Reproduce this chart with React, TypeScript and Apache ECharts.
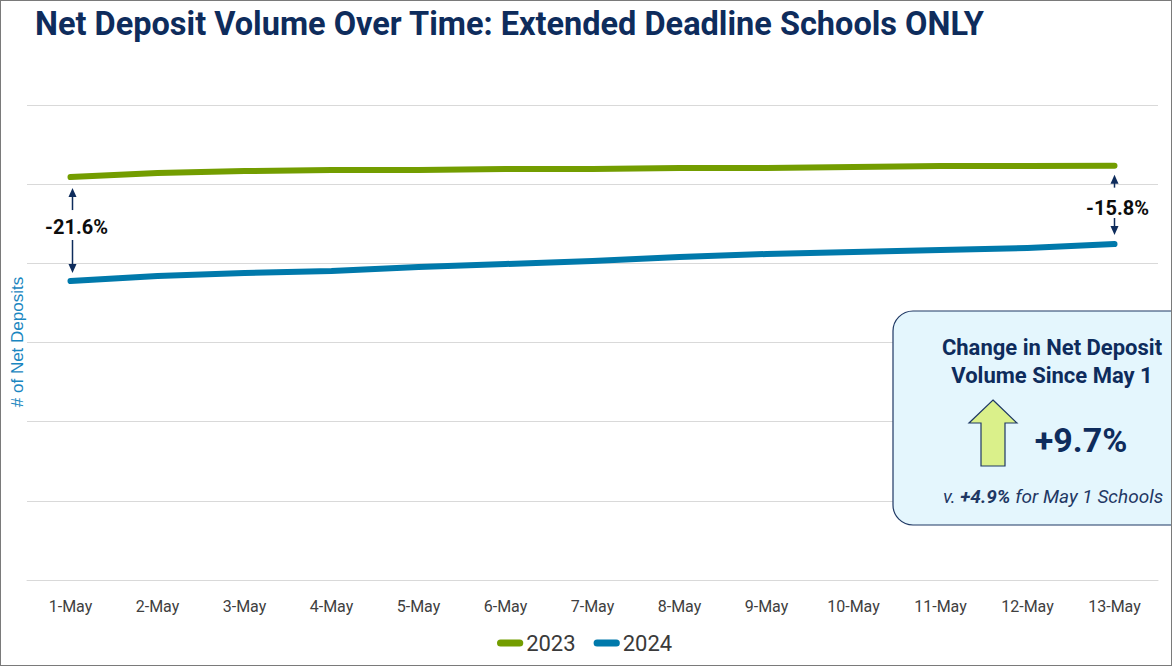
import React, { useEffect, useRef } from "react";
import * as echarts from "echarts";

const categories = ["1-May", "2-May", "3-May", "4-May", "5-May", "6-May", "7-May", "8-May", "9-May", "10-May", "11-May", "12-May", "13-May"];
const values2023 = [50900, 51400, 51650, 51790, 51800, 51910, 51920, 52040, 52050, 52170, 52290, 52300, 52340];
const values2024 = [37770, 38400, 38780, 39030, 39540, 39920, 40300, 40800, 41180, 41430, 41680, 41940, 42440];
const seriesNames = ["2023", "2024"];
const yMin = 0;
const yMax = 60000;
const yInterval = 10000;
const gapLabels = ["-21.6%", "-15.8%"];
const boxTitle = ["Change in Net Deposit", "Volume Since May 1"];
const boxValue = "+9.7%";
const boxCompare = ["v. ", "+4.9%", " for May 1 Schools"];
const titleText = "Net Deposit Volume Over Time: Extended Deadline Schools ONLY";
const yAxisTitle = "# of Net Deposits";

const NAVY = "#0E2C5C";
const GREEN = "#739D00";
const BLUE = "#0079AB";
const FONT = "Roboto";

function arrow(x: number, yTail: number, yTip: number) {
  const dir = yTip < yTail ? 1 : -1;
  return {
    type: "group",
    children: [
      {
        type: "line",
        shape: { x1: x, y1: yTail, x2: x, y2: yTip + dir * 6 },
        style: { stroke: NAVY, lineWidth: 1.5 },
      },
      {
        type: "polygon",
        shape: { points: [[x, yTip], [x - 4, yTip + dir * 9], [x + 4, yTip + dir * 9]] },
        style: { fill: NAVY },
      },
    ],
  };
}

export default function App() {
  const ref = useRef<HTMLDivElement>(null);
  useEffect(() => {
    if (!ref.current) return;
    const chart = echarts.init(ref.current, null, { renderer: "svg" });
    chart.setOption({
      animation: false,
      title: {
        text: titleText,
        left: 29,
        top: 1,
        textStyle: { fontFamily: FONT, fontSize: 32.5, fontWeight: "bold", color: NAVY },
      },
      grid: { left: 26, right: 13, top: 104, bottom: 85 },
      legend: {
        data: seriesNames,
        bottom: 6,
        left: 491,
        icon: "path://M4,0 H26 A4,4 0 0 1 26,8 H4 A4,4 0 0 1 4,0 Z",
        itemWidth: 30,
        itemHeight: 7,
        itemGap: 18,
        textStyle: { fontFamily: FONT, fontSize: 22, color: "#3A3A3A", padding: [0, 0, 0, -4] },
      },
      xAxis: {
        type: "category",
        data: categories,
        boundaryGap: true,
        axisLine: { lineStyle: { color: "#D9D9D9", width: 1 } },
        axisTick: { show: false },
        axisLabel: { fontFamily: FONT, fontSize: 16, color: "#404040", margin: 18 },
      },
      yAxis: {
        type: "value",
        min: yMin,
        max: yMax,
        interval: yInterval,
        axisLabel: { show: false },
        axisLine: { show: false },
        axisTick: { show: false },
        splitLine: { lineStyle: { color: "#D9D9D9", width: 1 } },
      },
      series: [
        {
          name: seriesNames[0],
          type: "line",
          data: values2023,
          symbol: "none",
          smooth: false,
          lineStyle: { color: GREEN, width: 6, cap: "round", join: "round" },
          itemStyle: { color: GREEN },
        },
        {
          name: seriesNames[1],
          type: "line",
          data: values2024,
          symbol: "none",
          smooth: false,
          lineStyle: { color: BLUE, width: 6, cap: "round", join: "round" },
          itemStyle: { color: BLUE },
        },
      ],
    });

    const last = categories.length - 1;
    const g0 = chart.convertToPixel({ xAxisIndex: 0, yAxisIndex: 0 }, [categories[0], values2023[0]]) as number[];
    const b0 = chart.convertToPixel({ xAxisIndex: 0, yAxisIndex: 0 }, [categories[0], values2024[0]]) as number[];
    const gN = chart.convertToPixel({ xAxisIndex: 0, yAxisIndex: 0 }, [categories[last], values2023[last]]) as number[];
    const bN = chart.convertToPixel({ xAxisIndex: 0, yAxisIndex: 0 }, [categories[last], values2024[last]]) as number[];

    const gapText = (x: number, y: number, t: string) => ({
      type: "text",
      x,
      y,
      style: {
        text: t,
        fontFamily: FONT,
        fontSize: 20,
        fontWeight: "bold",
        fill: "#0D0D0D",
        align: "center",
        verticalAlign: "middle",
      },
    });

    chart.setOption({
      graphic: [
        {
          type: "text",
          x: 16,
          y: 341,
          rotation: Math.PI / 2,
          style: {
            text: yAxisTitle,
            fontFamily: "Liberation Sans",
            fontSize: 17,
            fill: "#1A86C0",
            align: "center",
            verticalAlign: "middle",
          },
        },
        arrow(g0[0] + 2, g0[1] + 33, g0[1] + 11),
        arrow(g0[0] + 2, b0[1] - 41, b0[1] - 8),
        gapText(g0[0] + 6, (g0[1] + b0[1]) / 2 - 2, gapLabels[0]),
        arrow(gN[0], gN[1] + 22, gN[1] + 9),
        arrow(gN[0], bN[1] - 26, bN[1] - 9),
        gapText(gN[0] + 3, (gN[1] + bN[1]) / 2 + 3, gapLabels[1]),
        {
          type: "rect",
          shape: { x: 892, y: 310, width: 320, height: 214, r: 20 },
          style: { fill: "#E4F6FD", stroke: "#1F3864", lineWidth: 1.2 },
        },
        {
          type: "text",
          x: 1051,
          y: 346,
          style: {
            text: boxTitle[0],
            fontFamily: FONT,
            fontSize: 22,
            fontWeight: "bold",
            fill: NAVY,
            align: "center",
            verticalAlign: "middle",
          },
        },
        {
          type: "text",
          x: 1051,
          y: 374,
          style: {
            text: boxTitle[1],
            fontFamily: FONT,
            fontSize: 22,
            fontWeight: "bold",
            fill: NAVY,
            align: "center",
            verticalAlign: "middle",
          },
        },
        {
          type: "polygon",
          shape: {
            points: [
              [992, 399],
              [1016, 422],
              [1004, 422],
              [1004, 465],
              [980, 465],
              [980, 422],
              [968, 422],
            ],
          },
          style: { fill: "#DAF08A", stroke: "#1F3864", lineWidth: 1.2 },
        },
        {
          type: "text",
          x: 1080,
          y: 439,
          style: {
            text: boxValue,
            fontFamily: FONT,
            fontSize: 34,
            fontWeight: "bold",
            fill: NAVY,
            align: "center",
            verticalAlign: "middle",
          },
        },
        {
          type: "text",
          x: 1052,
          y: 495,
          style: {
            text: "{a|" + boxCompare[0] + "}{b|" + boxCompare[1] + "}{a|" + boxCompare[2] + "}",
            align: "center",
            verticalAlign: "middle",
            rich: {
              a: { fontFamily: FONT, fontSize: 19, fontStyle: "italic", fill: "#1F3864", color: "#1F3864" },
              b: { fontFamily: FONT, fontSize: 19, fontStyle: "italic", fontWeight: "bold", fill: "#1F3864", color: "#1F3864" },
            },
          },
        },
      ],
    });

    return () => chart.dispose();
  }, []);

  return (
    <div
      style={{
        position: "fixed",
        left: 0,
        top: 0,
        width: 1172,
        height: 666,
        boxSizing: "border-box",
        border: "1px solid #7A7A7A",
        background: "#fff",
        overflow: "hidden",
      }}
    >
      <div ref={ref} style={{ width: 1170, height: 664 }} />
    </div>
  );
}
